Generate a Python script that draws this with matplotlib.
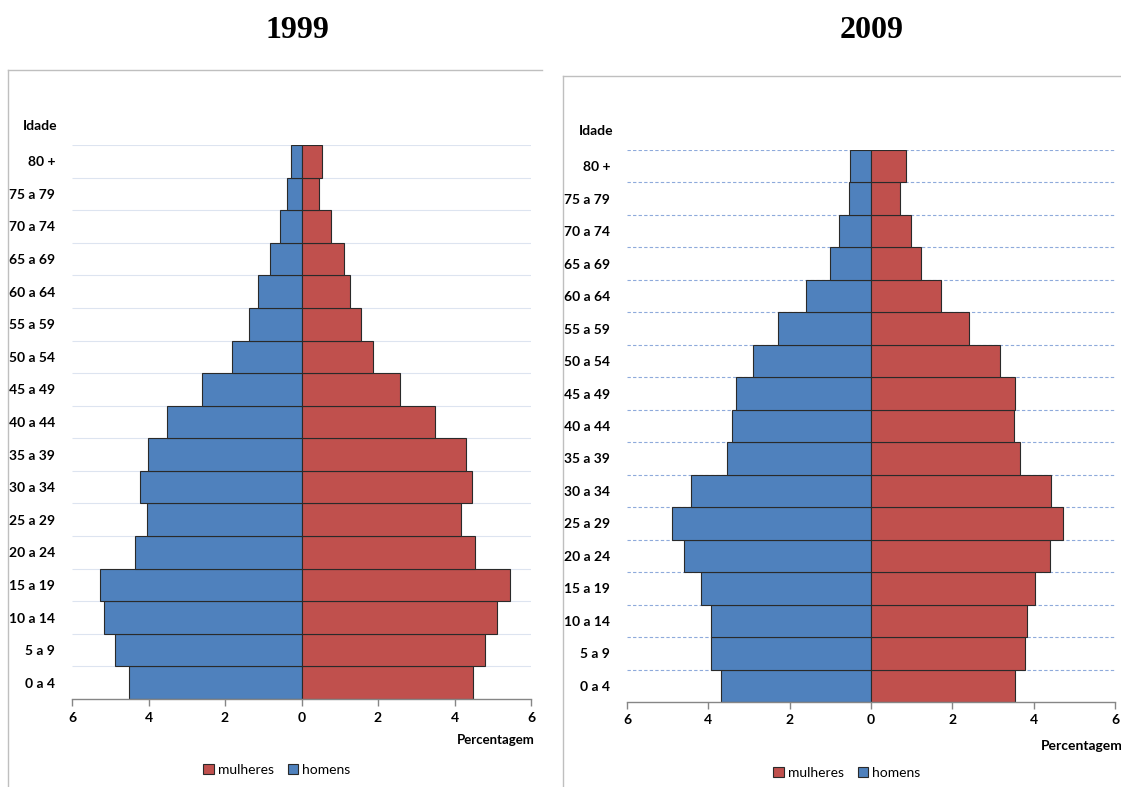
import matplotlib
matplotlib.use("Agg")
import matplotlib.pyplot as plt
from matplotlib.lines import Line2D
from matplotlib.ticker import FuncFormatter

ages = ["0 a 4", "5 a 9", "10 a 14", "15 a 19", "20 a 24", "25 a 29", "30 a 34",
        "35 a 39", "40 a 44", "45 a 49", "50 a 54", "55 a 59", "60 a 64",
        "65 a 69", "70 a 74", "75 a 79", "80 +"]

homens_1999 = [4.51, 4.88, 5.17, 5.27, 4.35, 4.05, 4.23, 4.02, 3.52, 2.60, 1.81,
               1.38, 1.14, 0.82, 0.55, 0.39, 0.27]
mulheres_1999 = [4.48, 4.81, 5.11, 5.44, 4.54, 4.16, 4.46, 4.30, 3.49, 2.58, 1.87,
                 1.55, 1.26, 1.10, 0.78, 0.45, 0.53]

homens_2009 = [3.70, 3.93, 3.93, 4.18, 4.61, 4.89, 4.42, 3.54, 3.42, 3.31, 2.91,
               2.28, 1.60, 1.01, 0.78, 0.53, 0.51]
mulheres_2009 = [3.54, 3.78, 3.84, 4.03, 4.40, 4.72, 4.43, 3.66, 3.52, 3.55, 3.17,
                 2.42, 1.71, 1.23, 0.99, 0.71, 0.87]

xticks = [-6, -4, -2, 0, 2, 4, 6]

BLUE = "#4F81BD"
RED = "#C0504D"
W, H = 1121, 787

plt.rcParams['font.family'] = ['Lato', 'DejaVu Sans']

fig = plt.figure(figsize=(W / 100, H / 100), dpi=100)


def px_axes(x0, y0, x1, y1):
    return fig.add_axes([x0 / W, 1 - y1 / H, (x1 - x0) / W, (y1 - y0) / H])


def draw(ax, men, women, grid_style):
    y = list(range(len(ages)))
    ax.barh(y, [-m for m in men], height=1.0, color=BLUE, edgecolor="#2a2a2a",
            linewidth=0.8, zorder=3, label="homens")
    ax.barh(y, women, height=1.0, color=RED, edgecolor="#2a2a2a",
            linewidth=0.8, zorder=3, label="mulheres")
    ax.set_xlim(-6, 6)
    ax.set_ylim(-0.5, len(ages) - 0.5)
    bounds = [i + 0.5 for i in range(len(ages))]
    if grid_style == "solid":
        ax.hlines(bounds, -6, 6, colors="#dde4f0", linewidth=0.8, zorder=1)
    else:
        ax.hlines(bounds, -6, 6, colors="#8eaadb", linewidth=0.8,
                  linestyles=(0, (3, 2)), zorder=1)
    ax.set_yticks(y)
    ax.set_yticklabels(ages, fontsize=10, fontweight="bold")
    ax.tick_params(axis="y", length=0, pad=12)
    ax.set_xticks(xticks)
    ax.xaxis.set_major_formatter(FuncFormatter(lambda v, p: f"{abs(int(v))}"))
    for lab in ax.get_xticklabels():
        lab.set_fontweight("bold")
    ax.tick_params(axis="x", length=5, width=1, color="#868686", labelsize=10,
                   pad=4, direction="out")
    for s in ["left", "right", "top"]:
        ax.spines[s].set_visible(False)
    ax.spines["bottom"].set_color("#868686")
    ax.spines["bottom"].set_linewidth(1)
    ax.spines["bottom"].set_zorder(4)


# panel frames
for (x0, y0) in [(8, 70), (563, 76)]:
    xr = 542 if x0 == 8 else W
    fig.add_artist(Line2D([x0 / W, xr / W], [1 - y0 / H, 1 - y0 / H],
                          color="#bfbfbf", lw=1, transform=fig.transFigure))
    fig.add_artist(Line2D([x0 / W, x0 / W], [1 - y0 / H, 0],
                          color="#bfbfbf", lw=1, transform=fig.transFigure))

ax1 = px_axes(72, 145, 531, 699)
draw(ax1, homens_1999, mulheres_1999, "solid")
ax2 = px_axes(627, 150, 1115, 702)
draw(ax2, homens_2009, mulheres_2009, "dashed")

# titles
fig.text(297 / W, 1 - 30 / H, "1999", ha="center", va="center",
         family="Liberation Serif", fontweight="bold", fontsize=23)
fig.text(872 / W, 1 - 30 / H, "2009", ha="center", va="center",
         family="Liberation Serif", fontweight="bold", fontsize=23)

# axis titles
fig.text(57 / W, 1 - 126 / H, "Idade", ha="right", va="center",
         fontsize=10, fontweight="bold")
fig.text(613 / W, 1 - 131 / H, "Idade", ha="right", va="center",
         fontsize=10, fontweight="bold")
fig.text(457 / W, 1 - 740 / H, "Percentagem", ha="left", va="center",
         fontsize=9.5, fontweight="bold")
fig.text(1041 / W, 1 - 746 / H, "Percentagem", ha="left", va="center",
         fontsize=10, fontweight="bold")

# legends
for ax, cx, cy in [(ax1, 277, 770), (ax2, 847, 773)]:
    h, l = ax.get_legend_handles_labels()
    fig.legend([h[1], h[0]], [l[1], l[0]], loc="center",
               bbox_to_anchor=(cx / W, 1 - cy / H), ncol=2, frameon=False,
               fontsize=10, handlelength=0.75, handleheight=0.75,
               handletextpad=0.3, columnspacing=1.0)

fig.savefig("out.png", dpi=100)
